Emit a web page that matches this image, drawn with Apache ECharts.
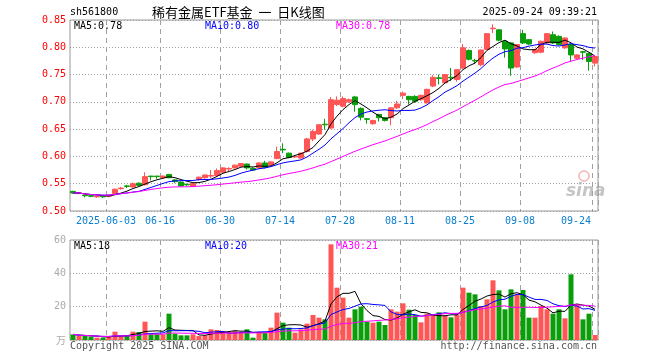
<!DOCTYPE html>
<html><head><meta charset="utf-8">
<script src="https://cdn.jsdelivr.net/npm/echarts@6/dist/echarts.min.js"></script>
<style>html,body{margin:0;padding:0;background:#fff}#c{width:660px;height:360px}</style>
</head><body><div id="c"></div>
<script>
const dates = [
'2025-05-23','2025-05-26','2025-05-27','2025-05-28','2025-05-29','2025-05-30',
'2025-06-03','2025-06-04','2025-06-05','2025-06-06','2025-06-09','2025-06-10','2025-06-11','2025-06-12','2025-06-13','2025-06-16','2025-06-17','2025-06-18','2025-06-19','2025-06-20','2025-06-23','2025-06-24','2025-06-25','2025-06-26','2025-06-27','2025-06-30',
'2025-07-01','2025-07-02','2025-07-03','2025-07-04','2025-07-07','2025-07-08','2025-07-09','2025-07-10','2025-07-11','2025-07-14','2025-07-15','2025-07-16','2025-07-17','2025-07-18','2025-07-21','2025-07-22','2025-07-23','2025-07-24','2025-07-25','2025-07-28','2025-07-29','2025-07-30','2025-07-31',
'2025-08-01','2025-08-04','2025-08-05','2025-08-06','2025-08-07','2025-08-08','2025-08-11','2025-08-12','2025-08-13','2025-08-14','2025-08-15','2025-08-18','2025-08-19','2025-08-20','2025-08-21','2025-08-22','2025-08-25','2025-08-26','2025-08-27','2025-08-28','2025-08-29',
'2025-09-01','2025-09-02','2025-09-03','2025-09-04','2025-09-05','2025-09-08','2025-09-09','2025-09-10','2025-09-11','2025-09-12','2025-09-15','2025-09-16','2025-09-17','2025-09-18','2025-09-19','2025-09-22','2025-09-23','2025-09-24'
];
const openP = [0.536,0.532,0.529,0.528,0.526,0.527,0.527,0.532,0.541,0.546,0.544,0.551,0.548,0.564,0.564,0.561,0.567,0.557,0.553,0.549,0.545,0.558,0.561,0.564,0.565,0.571,0.577,0.579,0.582,0.586,0.578,0.579,0.588,0.584,0.596,0.613,0.606,0.599,0.597,0.609,0.632,0.641,0.659,0.652,0.695,0.692,0.700,0.709,0.688,0.669,0.660,0.677,0.671,0.671,0.689,0.712,0.710,0.710,0.704,0.698,0.729,0.744,0.735,0.745,0.741,0.762,0.794,0.776,0.768,0.796,0.834,0.832,0.811,0.808,0.764,0.825,0.814,0.790,0.791,0.808,0.823,0.820,0.799,0.805,0.780,0.792,0.789,0.771];
const closeP = [0.533,0.533,0.528,0.527,0.527,0.526,0.529,0.540,0.542,0.545,0.550,0.547,0.563,0.563,0.563,0.564,0.561,0.554,0.546,0.548,0.550,0.562,0.566,0.565,0.574,0.579,0.578,0.584,0.587,0.579,0.575,0.588,0.580,0.590,0.609,0.612,0.598,0.600,0.606,0.632,0.646,0.658,0.658,0.704,0.703,0.706,0.704,0.695,0.672,0.668,0.666,0.671,0.666,0.689,0.696,0.716,0.704,0.701,0.712,0.723,0.745,0.743,0.750,0.744,0.759,0.799,0.778,0.775,0.795,0.825,0.835,0.813,0.797,0.762,0.805,0.808,0.806,0.796,0.811,0.825,0.808,0.805,0.817,0.786,0.786,0.791,0.774,0.783];
const lowP = [0.532,0.531,0.525,0.525,0.524,0.524,0.525,0.531,0.539,0.542,0.543,0.546,0.547,0.556,0.559,0.560,0.560,0.551,0.545,0.545,0.544,0.555,0.559,0.560,0.563,0.570,0.573,0.578,0.581,0.576,0.574,0.578,0.578,0.583,0.595,0.606,0.597,0.597,0.596,0.607,0.628,0.640,0.649,0.650,0.692,0.690,0.698,0.682,0.666,0.660,0.658,0.664,0.664,0.657,0.687,0.705,0.695,0.698,0.702,0.697,0.727,0.732,0.734,0.738,0.737,0.760,0.776,0.770,0.765,0.795,0.826,0.811,0.781,0.748,0.762,0.806,0.804,0.788,0.789,0.806,0.806,0.803,0.797,0.774,0.778,0.777,0.757,0.765];
const highP = [0.537,0.535,0.530,0.529,0.528,0.528,0.530,0.541,0.544,0.548,0.552,0.552,0.571,0.564,0.564,0.565,0.568,0.558,0.554,0.550,0.551,0.563,0.567,0.575,0.578,0.580,0.580,0.585,0.588,0.587,0.580,0.589,0.592,0.591,0.618,0.624,0.607,0.602,0.607,0.634,0.649,0.659,0.669,0.709,0.710,0.710,0.706,0.711,0.690,0.670,0.667,0.678,0.672,0.690,0.702,0.719,0.711,0.712,0.713,0.724,0.749,0.750,0.751,0.762,0.760,0.806,0.796,0.779,0.796,0.826,0.842,0.833,0.812,0.809,0.806,0.832,0.815,0.797,0.812,0.826,0.829,0.822,0.818,0.806,0.787,0.793,0.790,0.785];
const volume = [3.4,2.4,2.4,2.0,1.4,1.4,1.8,5.0,2.4,2.4,5.0,4.8,11.0,3.4,3.4,3.4,15.8,3.8,2.8,2.8,3.4,2.4,2.8,6.4,6.0,5.4,4.8,5.4,4.8,6.4,1.4,4.8,4.0,7.4,16.4,10.4,7.4,4.4,6.4,9.8,15.0,13.4,12.4,57.4,31.4,25.4,13.4,18.4,20.0,11.0,10.4,11.0,9.0,18.4,17.0,22.0,18.2,15.0,10.6,15.8,15.0,16.6,14.6,13.6,15.4,31.4,28.4,27.4,20.4,24.4,35.8,29.8,18.4,30.4,27.4,30.0,13.4,13.4,20.4,18.4,15.8,18.4,13.0,39.4,21.4,12.4,15.8,3.0];
const labelIdx = [6,15,25,35,45,55,65,75,87];
const priceTicks = {min:0.50, max:0.85, step:0.05};
const volTicks = {min:0, max:60, step:20};
const priceLegend = ['MA5:0.78','MA10:0.80','MA30:0.78'];
const volLegend = ['MA5:18','MA10:20','MA30:21'];

const UP='#ff5555', DOWN='#0a9e0a';
const MONO='"DejaVu Sans Mono", "Liberation Mono", monospace';
function ma(arr,n){return arr.map((_,i)=>{const s=Math.max(0,i-n+1);let t=0;for(let k=s;k<=i;k++)t+=arr[k];return +(t/(i-s+1)).toFixed(4);});}
const kData = dates.map((d,i)=>[openP[i],closeP[i],lowP[i],highP[i]]);
const volData = volume.map((v,i)=>({value:v,itemStyle:{color: closeP[i]>=openP[i]?UP:DOWN}}));
const showIdx = (i)=>labelIdx.indexOf(i)>=0;
const maLine=(name,data,color,xi,yi)=>({type:'line',name,data,xAxisIndex:xi,yAxisIndex:yi,showSymbol:false,symbol:'none',silent:true,lineStyle:{width:1,color},itemStyle:{color},z:5});
const dashed=[5,4], dotted=[1,2];

const chart = echarts.init(document.getElementById('c'),null,{renderer:'canvas'});
const xBase = (gi,labels)=>({
  type:'category',gridIndex:gi,data:dates,boundaryGap:true,
  axisLine:{show:false},axisTick:{show:false},
  axisLabel: labels?{
    show:true,interval:(i)=>showIdx(i),margin:5,
    formatter:(v,i)=> i===87?'{r|'+v.slice(5)+'}':'{c|'+(i===6?v:v.slice(5))+'}',
    rich:{c:{padding:[0,6,0,0],color:'#0a7fd0',fontFamily:MONO,fontSize:10},
          r:{padding:[0,38,0,0],color:'#0a7fd0',fontFamily:MONO,fontSize:10}}
  }:{show:false},
  splitLine:{show:true,interval:(i)=>showIdx(i),lineStyle:{color:'#a0a0a0',type:dashed,width:1}}
});
const txt=(x,y,text,fill,font,align)=>({type:'text',x,y,silent:true,style:{text,fill,font,textAlign:align||'left',textVerticalAlign:'middle',align:align||'left',verticalAlign:'middle'}});

chart.setOption({
  animation:false,
  backgroundColor:'#fff',
  grid:[{left:70,top:20,width:528,height:191,show:true,borderColor:'#999',borderWidth:1},
        {left:70,top:240,width:528,height:100,show:true,borderColor:'#999',borderWidth:1}],
  xAxis:[xBase(0,true),xBase(1,false)],
  yAxis:[
    {type:'value',gridIndex:0,min:priceTicks.min,max:priceTicks.max,interval:priceTicks.step,
     axisLine:{show:false},axisTick:{show:false},
     axisLabel:{color:'#ff0000',fontFamily:MONO,fontSize:10,margin:4,formatter:(v)=>v.toFixed(2)},
     splitLine:{show:true,lineStyle:{color:'#a0a0a0',type:dotted}}},
    {type:'value',gridIndex:1,min:volTicks.min,max:volTicks.max,interval:volTicks.step,
     axisLine:{show:false},axisTick:{show:false},
     axisLabel:{color:'#aaaaaa',fontFamily:MONO,fontSize:10,margin:4,formatter:(v)=>v===0?'':String(v)},
     splitLine:{show:true,lineStyle:{color:'#a0a0a0',type:dotted}}}
  ],
  series:[
    {type:'candlestick',xAxisIndex:0,yAxisIndex:0,data:kData,barWidth:5,
     itemStyle:{color:UP,color0:DOWN,borderColor:UP,borderColor0:DOWN,borderWidth:1}},
    maLine('MA5',ma(closeP,5),'#000000',0,0),
    maLine('MA10',ma(closeP,10),'#0000ff',0,0),
    maLine('MA30',ma(closeP,30),'#ff00ff',0,0),
    {type:'bar',xAxisIndex:1,yAxisIndex:1,data:volData,barWidth:5},
    maLine('VMA5',ma(volume,5),'#000000',1,1),
    maLine('VMA10',ma(volume,10),'#0000ff',1,1),
    maLine('VMA30',ma(volume,30),'#ff00ff',1,1)
  ],
  graphic:[
    txt(70,12,'sh561800','#000','10px '+MONO),
    txt(152,12,'稀有金属ETF基金  一  日K线图','#000','13px "Noto Sans CJK SC"'),
    txt(597,12,'2025-09-24 09:39:21','#000','10px '+MONO,'right'),
    txt(74,26,priceLegend[0],'#000','10px '+MONO),
    txt(205,26,priceLegend[1],'#0000ff','10px '+MONO),
    txt(336,26,priceLegend[2],'#ff00ff','10px '+MONO),
    txt(74,246,volLegend[0],'#000','10px '+MONO),
    txt(205,246,volLegend[1],'#0000ff','10px '+MONO),
    txt(336,246,volLegend[2],'#ff00ff','10px '+MONO),
    txt(66,340,'万','#aaaaaa','10px "Noto Sans CJK SC"','right'),
    txt(70,346,'Copyright 2025 SINA.COM','#555','10px '+MONO),
    txt(597,346,'http://finance.sina.com.cn','#555','10px '+MONO,'right'),
    {type:'circle',shape:{cx:584,cy:176,r:5},silent:true,style:{fill:'none',stroke:'rgba(230,120,120,0.45)',lineWidth:2}},
    txt(566,192,'sina','rgba(150,150,150,0.55)','italic bold 17px "DejaVu Sans"')
  ]
});
</script></body></html>
